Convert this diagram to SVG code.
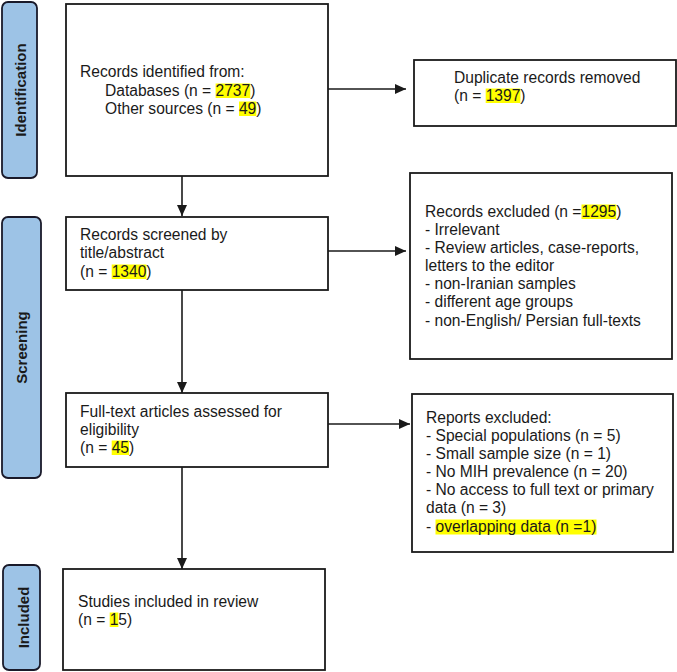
<svg xmlns="http://www.w3.org/2000/svg" width="677" height="672" viewBox="0 0 677 672">
<defs>
<style>
.box{fill:#fff;stroke:#1a1a1a;stroke-width:1.8}
.lab{fill:#9dc3e6;stroke:#1a1a2a;stroke-width:1.8}
.t{font-family:"Liberation Sans",Arial,sans-serif;font-size:15.6px;fill:#1a1a1a}
.lt{font-family:"Liberation Sans",Arial,sans-serif;font-size:15px;font-weight:bold;fill:#1a1a1a;text-anchor:middle}
.hl{fill:#ffff00}
.c{stroke:#1a1a1a;stroke-width:1.6;fill:none}
</style>
<marker id="ah" viewBox="0 0 11 10" refX="11" refY="5" markerWidth="11" markerHeight="10" markerUnits="userSpaceOnUse" orient="auto">
<path d="M0,0 L11,5 L0,10 Z" fill="#1a1a1a"/>
</marker>
</defs>
<rect width="677" height="672" fill="#fff"/>

<g id="label-identification">
<rect class="lab" x="2" y="2" width="35" height="176" rx="6"/>
<text class="lt" transform="translate(26,90) rotate(-90)">Identification</text>
</g>
<g id="label-screening">
<rect class="lab" x="2" y="217" width="39" height="261" rx="6"/>
<text class="lt" transform="translate(27,347.5) rotate(-90)">Screening</text>
</g>
<g id="label-included">
<rect class="lab" x="3" y="565" width="37" height="105" rx="6"/>
<text class="lt" transform="translate(28.5,617.5) rotate(-90)">Included</text>
</g>

<g id="connectors">
<line class="c" x1="328" y1="89" x2="406" y2="89" marker-end="url(#ah)"/>
<line class="c" x1="182" y1="176" x2="182" y2="216" marker-end="url(#ah)"/>
<line class="c" x1="328" y1="251" x2="406" y2="251" marker-end="url(#ah)"/>
<line class="c" x1="182" y1="290" x2="182" y2="393" marker-end="url(#ah)"/>
<line class="c" x1="328" y1="424" x2="410" y2="424" marker-end="url(#ah)"/>
<line class="c" x1="182" y1="467" x2="182" y2="569" marker-end="url(#ah)"/>
</g>

<g id="node-identified">
<rect class="box" x="66" y="4" width="262" height="172"/>
<rect class="hl" x="215.6" y="83.5" width="34.7" height="14.5"/>
<rect class="hl" x="239" y="101.5" width="17.3" height="14.5"/>
<text class="t" x="80" y="77">Records identified from:</text>
<text class="t" x="105" y="96">Databases (n = 2737)</text>
<text class="t" x="105" y="114">Other sources (n = 49)</text>
</g>

<g id="node-duplicates">
<rect class="box" x="414" y="60" width="262" height="66"/>
<rect class="hl" x="485.7" y="88.5" width="34.7" height="14.5"/>
<text class="t" x="454" y="83">Duplicate records removed</text>
<text class="t" x="454" y="101">(n = 1397)</text>
</g>

<g id="node-screened">
<rect class="box" x="66" y="217" width="262" height="73"/>
<rect class="hl" x="111.7" y="264.5" width="34.7" height="14.5"/>
<text class="t" x="80" y="240">Records screened by</text>
<text class="t" x="80" y="258">title/abstract</text>
<text class="t" x="80" y="277">(n = 1340)</text>
</g>

<g id="node-records-excluded">
<rect class="box" x="410" y="173" width="262" height="186"/>
<rect class="hl" x="581.5" y="204.5" width="34.7" height="14.5"/>
<text class="t" x="425" y="217">Records excluded (n =1295)</text>
<text class="t" x="425" y="235">- Irrelevant</text>
<text class="t" x="425" y="253">- Review articles, case-reports,</text>
<text class="t" x="425" y="271">letters to the editor</text>
<text class="t" x="425" y="289">- non-Iranian samples</text>
<text class="t" x="425" y="307">- different age groups</text>
<text class="t" x="425" y="326">- non-English/ Persian full-texts</text>
</g>

<g id="node-fulltext">
<rect class="box" x="66" y="393" width="262" height="74"/>
<rect class="hl" x="111.7" y="440.5" width="17.3" height="14.5"/>
<text class="t" x="80" y="417">Full-text articles assessed for</text>
<text class="t" x="80" y="435">eligibility</text>
<text class="t" x="80" y="453">(n = 45)</text>
</g>

<g id="node-reports-excluded">
<rect class="box" x="412" y="394" width="261" height="158"/>
<rect class="hl" x="435.5" y="519.5" width="161" height="15"/>
<text class="t" x="426" y="423">Reports excluded:</text>
<text class="t" x="426" y="441">- Special populations (n = 5)</text>
<text class="t" x="426" y="459">- Small sample size (n = 1)</text>
<text class="t" x="426" y="477">- No MIH prevalence (n = 20)</text>
<text class="t" x="426" y="495">- No access to full text or primary</text>
<text class="t" x="426" y="513">data (n = 3)</text>
<text class="t" x="426" y="532">- overlapping data (n =1)</text>
</g>

<g id="node-included">
<rect class="box" x="63" y="569" width="262" height="101"/>
<rect class="hl" x="109.7" y="612.5" width="8.7" height="14.5"/>
<text class="t" x="78" y="607">Studies included in review</text>
<text class="t" x="78" y="625">(n = 15)</text>
</g>
</svg>
